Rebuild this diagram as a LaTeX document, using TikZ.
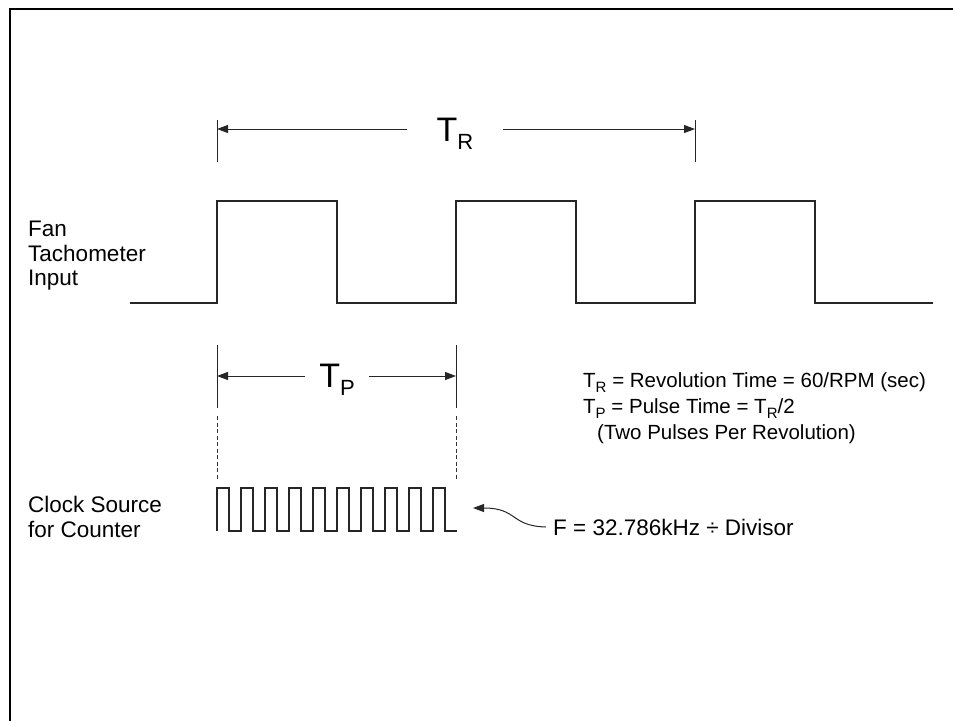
\documentclass[tikz,border=0pt]{standalone}
\usepackage{fontspec}
\setmainfont{Liberation Sans}
\usetikzlibrary{arrows.meta}
\newcommand\lowtxt[3]{\raisebox{-#2}{\fontsize{#1}{#1}\selectfont #3}}
\begin{document}
\begin{tikzpicture}[x=1pt,y=-1pt,
  frame/.style={line width=2.2pt, draw=black},
  wave/.style={line width=1.2pt, draw=black!85},
  dim/.style={line width=1pt, draw=black!85},
  tip/.style={-{Triangle[length=11pt,width=8pt]}},
  guide/.style={line width=0.9pt, draw=black!80, dash pattern=on 4pt off 2.5pt},
  lbl/.style={font=\fontsize{22.5}{24.5}\selectfont, align=left, inner sep=0pt, anchor=west},
  eqn/.style={font=\fontsize{20.5}{24}\selectfont, align=left, inner sep=0pt, anchor=west},
  big/.style={font=\fontsize{34}{34}\selectfont, inner sep=0pt}]
\useasboundingbox (0,0) rectangle (953,721);
\draw[frame] (10,721) -- (10,9) -- (953,9);

% T_R dimension
\coordinate (trLa) at (217,120); \coordinate (trLb) at (217,162);
\coordinate (trRa) at (695,120); \coordinate (trRb) at (695,162);
\coordinate (trL) at (217,129); \coordinate (trR) at (695,129);
\draw[dim] (trLa) -- (trLb);
\draw[dim] (trRa) -- (trRb);
\node[big, minimum width=95pt] (TR) at (455,134) {T\lowtxt{22}{8pt}{R}};
\draw[dim,tip] (TR.west |- trL) -- (trL);
\draw[dim,tip] (TR.east |- trR) -- (trR);

% Tachometer waveform
\draw[wave] (130,303) -- (217,303) -- (217,201) -- (337,201) -- (337,303)
  -- (456,303) -- (456,201) -- (576,201) -- (576,303)
  -- (695,303) -- (695,201) -- (815,201) -- (815,303) -- (933,303);
\node[lbl] (fan) at (28,256) {Fan\\Tachometer\\Input};

% T_P dimension
\coordinate (tpLa) at (217,345); \coordinate (tpLb) at (217,408);
\coordinate (tpRa) at (456,345); \coordinate (tpRb) at (456,408);
\coordinate (tpL) at (217,376); \coordinate (tpR) at (456,376);
\draw[dim] (tpLa) -- (tpLb);
\draw[dim] (tpRa) -- (tpRb);
\node[big, minimum width=63pt] (TP) at (337,380) {T\lowtxt{22}{8pt}{P}};
\draw[dim,tip] (TP.west |- tpL) -- (tpL);
\draw[dim,tip] (TP.east |- tpR) -- (tpR);

% dashed guides
\coordinate (gLa) at (217,416); \coordinate (gLb) at (217,480);
\coordinate (gRa) at (456,416); \coordinate (gRb) at (456,480);
\draw[guide] (gLa) -- (gLb);
\draw[guide] (gRa) -- (gRb);

% clock waveform
\draw[wave] (217,531)
  \foreach \k in {0,...,9} {
    -- ({217+24*\k},488) -- ({229+24*\k},488) -- ({229+24*\k},531) -- ({241+24*\k},531)
  };
\node[lbl] (clk) at (28,517) {Clock Source\\for Counter};

% frequency label
\coordinate (ftip) at (473,508);
\node[lbl] (F) at (553,527) {F = 32.786kHz ÷ Divisor};
\draw[dim,tip] ([xshift=-7pt]F.west) .. controls (510,526) and (518,508) .. (ftip);

% equations
\node[eqn] (eq1) at (583,383) {T\lowtxt{15}{5pt}{R} = Revolution Time = 60/RPM (sec)};
\node[eqn] (eq2) at (583,409) {T\lowtxt{15}{5pt}{P} = Pulse Time = T\lowtxt{15}{5pt}{R}/2};
\node[eqn] (eq3) at (597,434) {(Two Pulses Per Revolution)};
\end{tikzpicture}
\end{document}
